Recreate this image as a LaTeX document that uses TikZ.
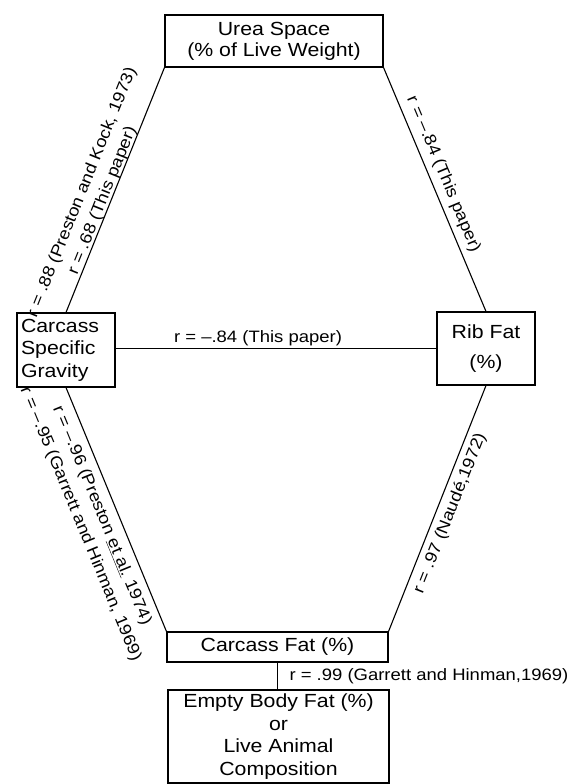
\documentclass[tikz,border=0pt]{standalone}
\usepackage{fontspec}
\setmainfont{Liberation Sans}[FakeStretch=1.12]
\newcommand\boxfont{\fontsize{19}{22.5}\selectfont}
\newcommand\labfont{\fontsize{16.5}{20}\selectfont}
\tikzset{
  box/.style={draw, line width=1.1pt, inner sep=0pt, align=center, font=\boxfont},
  conn/.style={line width=1.1pt},
  lab/.style={font=\labfont, inner sep=0pt, outer sep=0pt},
}
\begin{document}
\begin{tikzpicture}[x=1pt,y=-1pt]
\useasboundingbox (0,0) rectangle (580,784);
\node[box, minimum width=218pt, minimum height=52pt] (urea) at (274,41)
  {Urea Space\\[-1.5pt](\% of Live Weight)};
\node[box, text width=90pt, align=left, inner xsep=4pt, minimum height=74pt] (csg) at (66,350)
  {Carcass\\Specific\\Gravity};
\node[box, minimum width=98pt, minimum height=73pt] (rib) at (486,348.5)
  {Rib Fat\\[7pt](\%)};
\node[box, minimum width=221pt, minimum height=30pt] (cfat) at (277.5,647)
  {Carcass Fat (\%)};
\node[box, minimum width=221pt, minimum height=93pt] (ebf) at (278.5,736.5)
  {Empty Body Fat (\%)\\or\\Live Animal\\Composition};

\draw[conn] (csg.north) -- (urea.south west)
  node[lab, pos=0.445, sloped, above=0pt, align=center]
  {r = .88 (Preston and Kock, 1973)\\[2pt]r = .68 (This paper)};
\draw[conn] (urea.south east) -- (rib.north)
  node[lab, pos=0.46, sloped, above=6pt] {r = –.84 (This paper)};
\draw[conn] (csg.east |- rib.west) -- (rib.west)
  node[lab, pos=0.444, above=3pt] {r = –.84 (This paper)};
\draw[conn] (csg.south) -- (cfat.north west)
  node[lab, pos=0.5, sloped, below=8pt, align=center]
  {r = –.96 (Preston \underline{et al.} 1974)\\[3pt]r = –.95 (Garrett and Hinman, 1969)};
\draw[conn] (cfat.north east) -- (rib.south)
  node[lab, pos=0.5, sloped, below=6pt] {r = .97 (Naudé,1972)};
\draw[conn] (cfat.south) -- (cfat.south |- ebf.north)
  node[lab, midway, right=12pt] {r = .99 (Garrett and Hinman,1969)};
\end{tikzpicture}
\end{document}
